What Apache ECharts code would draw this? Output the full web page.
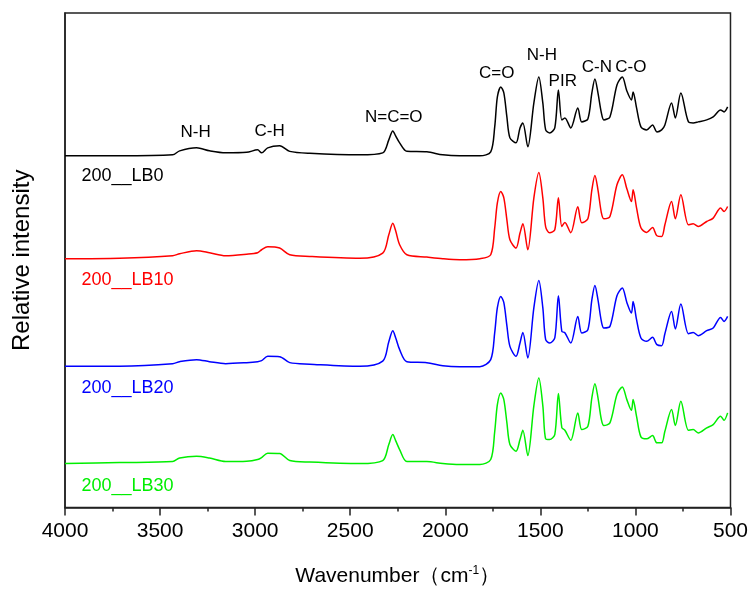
<!DOCTYPE html>
<html>
<head>
<meta charset="utf-8">
<script src="https://cdn.jsdelivr.net/npm/echarts@6/dist/echarts.min.js"></script>
<style>
html,body{margin:0;padding:0;background:#fff;}
#chart{width:751px;height:592px;}
</style>
</head>
<body>
<div id="chart"></div>
<script>
// Wavenumbers (cm^-1), shared by all spectra
const wavenumbers = [4000,3713,3434,3397,3308,3240,3155,3045,2987,2966,2934,2871,2818,2713,2450,2329,2297,2276,2261,2240,2202,2097,2013,1924,1818,1761,1740,1726,1708,1692,1676,1660,1628,1607,1592,1566,1534,1508,1487,1472,1451,1424,1405,1387,1371,1340,1303,1282,1250,1229,1213,1197,1179,1166,1134,1097,1069,1045,1021,1012,994,971,941,910,887,862,845,810,790,761,721,696,670,625,591,552,534,515];

// Relative intensity (arbitrary units, stacked with offsets as in the figure)
const lb0 = [352,352,353,357,360,357,355,355.5,358,355,360,362,356.5,354.5,353,355,368,377,372,365,356.5,356,353,352,352,356,381,411,421,415,391,370,365,380,385,361,405,431,405,378,375,380,418,388,390,380,400,386,389,415,429,415,395,388,391,423,431,417,408,416,400,381,378,383,376,378,383,405,390,415,386,385,386,388,391,398,396,401];
const lb10 = [249,249.5,252,254,257,255,252,253.5,255,258,261,259.7,253,251.3,249.5,254.7,273,284.5,277,263,253,250.7,249,248,249,253,280,305,316.3,310,288,268,259.7,274.7,284,258,310,335.3,310,281,275,278,310,281.3,285.3,275,301,285,289,318,332.3,318,295,289,291.3,323,333,319,306.3,318,300,280,275.3,280.3,272,271.3,283,306.3,289,313,283,284,281.3,286.3,289.7,299.7,296.3,301.3];
const lb20 = [141.3,141.5,144,146,148,146,144,145,146,147,151.3,151,145,143.5,141.3,146.5,166,177,170,158,146,145,142,141,141,148,175,200,211.3,205,182,161.3,151.3,164.7,175.3,149.7,200,227.3,200,168,164.7,169.7,212,176.3,175,164.7,191.3,174.7,178,208,222.3,208,186.3,179.7,181.3,212,219.7,205.3,194.7,206.3,188,169.7,166.3,170.3,163,162,174,196.3,178.7,203.7,174,175.3,172,177,179.7,190.3,186.3,191.3];
const lb30 = [44,45,46,49.5,51.3,49.5,46,46.3,48,50,54.3,54,47,45.5,44,47,63,73,67,58,46,46,44,43,43,48,76,103,114.7,108,85,63,56.3,68,77.3,52,102,129.7,102,68.7,68,73,114,80,77.3,67.3,94.7,78,81.3,110,124,110,88,82,84.7,113,120.7,108,97.3,108,91.3,70.7,68.7,72,64.7,64.7,76.3,98,82,106.3,77.3,78,74.7,79.7,83,91.3,87.3,94.7];

const seriesNames = ['200__LB0','200__LB10','200__LB20','200__LB30'];
// where each series name is written (wavenumber, intensity)
const nameLabelWn = [3913,3913,3913,3913];
const nameLabelY = [332,228,120,21];

// band assignments written above the top spectrum
const bandLabels = ['N-H','C-H','N=C=O','C=O','N-H','PIR','C-N','C-O'];
const bandWn = [3313,2924,2271,1729,1492,1382,1203,1024];
const bandY = [376,377,391,435,453,427,441,441];

const xTicks = [4000,3500,3000,2500,2000,1500,1000,500];

const colors = ['#000000','#ff0000','#0000ff','#00ee00'];
const FONT = '"Liberation Sans", Arial, sans-serif';
const allData = [lb0, lb10, lb20, lb30];

const chart = echarts.init(document.getElementById('chart'), null, {renderer:'canvas'});

const series = allData.map((arr, si) => {
  const s = {
    name: seriesNames[si],
    type: 'line',
    data: wavenumbers.map((w, i) => [w, arr[i]]),
    showSymbol: false,
    smooth: 0.3,
    lineStyle: {color: colors[si], width: 1.5},
    itemStyle: {color: colors[si]},
    z: 5,
    markPoint: {
      symbol: 'circle',
      symbolSize: 0,
      silent: true,
      animation: false,
      data: [{
        coord: [nameLabelWn[si], nameLabelY[si]],
        label: {
          show: true, position: 'right', distance: 0,
          formatter: seriesNames[si],
          color: colors[si], fontSize: 18, fontFamily: FONT
        }
      }]
    }
  };
  if (si === 0) {
    bandLabels.forEach((t, k) => {
      s.markPoint.data.push({
        coord: [bandWn[k], bandY[k]],
        label: {
          show: true, position: 'inside',
          formatter: t, color: '#000', fontSize: 17, fontFamily: FONT
        }
      });
    });
  }
  return s;
});

const option = {
  backgroundColor: '#ffffff',
  animation: false,
  grid: {
    left: 65, right: 20, top: 13, bottom: 84,
    show: true, borderColor: '#222', borderWidth: 1.5, backgroundColor: 'transparent'
  },
  xAxis: {
    type: 'value',
    inverse: true,
    min: 500, max: 4000, interval: 500,
    name: 'Wavenumber（cm{sup|-1}）',
    nameLocation: 'middle',
    nameGap: 57,
    nameTextStyle: {
      fontSize: 21, fontFamily: FONT, color: '#000',
      rich: { sup: {fontSize: 12, verticalAlign: 'top', fontFamily: FONT, color:'#000', padding:[0,0,12,0]} }
    },
    axisLine: {show: true, onZero: false, lineStyle: {color: '#222', width: 1.5}},
    axisTick: {show: true, inside: false, length: 8, lineStyle: {color: '#222', width: 1.5}},
    minorTick: {show: true, splitNumber: 2, length: 4, lineStyle: {color: '#222', width: 1.5}},
    axisLabel: {
      fontSize: 21, fontFamily: FONT, color: '#000', margin: 13,
      formatter: v => xTicks.indexOf(v) >= 0 ? String(v) : ''
    },
    splitLine: {show: false}
  },
  yAxis: {
    type: 'value',
    min: 0, max: 495,
    name: 'Relative intensity',
    nameLocation: 'middle',
    nameGap: 31,
    nameRotate: 90,
    nameTextStyle: {fontSize: 24, fontFamily: FONT, color: '#000'},
    axisLine: {show: true, lineStyle: {color: '#222', width: 1.5}},
    axisTick: {show: false},
    axisLabel: {show: false},
    splitLine: {show: false}
  },
  series: series
};
chart.setOption(option);
</script>
</body>
</html>
